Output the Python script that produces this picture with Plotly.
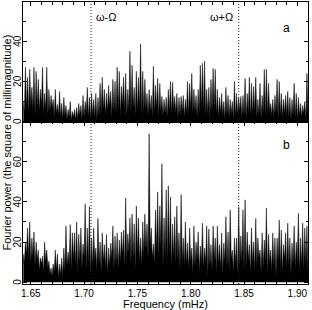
import numpy as np
import plotly.graph_objects as go

# frequency grid (mHz): spike maxima at F0 + k*STEP, minima halfway between
F0 = 1.643
STEP = 0.002

peak_a = [10, 27, 22, 26, 17, 27, 25, 21, 16, 27,
          14, 27, 16, 13, 11, 16, 8.5, 15, 9, 12,
          8, 6, 10, 5, 6, 7, 9, 8, 13, 10,
          17, 12, 14, 11, 14, 12, 19, 22, 16, 14,
          18, 15, 21, 20, 27, 25, 17.5, 22, 24, 16,
          35, 28, 17, 25, 22, 38.7, 25, 21, 14, 16,
          13, 27.5, 18, 21.5, 19, 12.5, 11, 12, 16, 20,
          19.5, 12.5, 14, 12, 12.5, 13, 11, 20, 19, 24,
          16, 13, 16, 28, 29, 30, 16, 17, 21, 26.5,
          26, 16, 12, 14, 10, 17, 13, 11, 10, 20,
          14, 12, 12.5, 13, 21.5, 14, 22, 19, 17.5, 22,
          11, 19, 13, 26, 26, 19, 9, 11, 13, 21,
          20, 14, 11, 13, 15, 12, 11, 19, 14, 12,
          9, 8, 10, 24]
trough_a = [5, 7, 4, 8, 6, 3, 7, 5, 8, 4,
            6, 3, 5, 7, 2, 4, 3, 2, 1, 3,
            1, 2, 0.5, 2, 1, 1.5, 3, 1, 2, 4,
            2, 1, 3, 2, 1, 3, 4, 6, 3, 5,
            7, 2, 5, 4, 6, 3, 8, 5, 2, 6,
            4, 7, 3, 5, 6, 2, 4, 6, 3, 5,
            2, 4, 6, 2, 5, 3, 4, 2, 5, 3,
            6, 4, 2, 3, 5, 2, 4, 3, 6, 4,
            5, 2, 4, 6, 5, 3, 4, 2, 5, 6,
            3, 2, 4, 3, 1, 3, 2, 4, 1, 2,
            3, 5, 2, 3, 1, 4, 2, 3, 5, 2,
            3, 1, 4, 2, 3, 5, 3, 2, 4, 1,
            3, 2, 4, 3, 2, 1, 3, 2, 1, 3,
            2, 4, 1, 3]

peak_b = [14, 20, 27, 30, 22, 25, 20, 16, 12, 13,
          20, 16, 10.5, 7, 9, 16, 14, 9, 12, 17,
          28, 15, 28.7, 24.6, 24.6, 30, 23.8, 27, 19, 39,
          27, 37.6, 22, 27, 17, 31.8, 20, 24.6, 18.7, 23.8,
          17, 19.5, 28, 23, 24.6, 21, 25, 26, 42, 24,
          32, 34, 29, 38, 32, 22, 30, 34, 29, 74,
          27, 19, 36, 45, 38, 59, 32, 46, 48, 42.5,
          29, 32.6, 38, 24.6, 43.6, 22, 30, 19.5, 27, 17,
          28, 20, 25, 18, 29.4, 17, 28, 26.5, 18.7, 28,
          22, 28, 18.7, 24.6, 19.5, 32.6, 25, 36, 16, 22,
          22, 37.6, 23, 36, 41, 25, 18.7, 27, 20, 31.8,
          22, 16, 24.6, 21, 37, 23.8, 16, 24.6, 22, 22,
          31, 26, 18.7, 24.6, 29.4, 22, 19.5, 28, 20, 34.3,
          22, 29.4, 27, 28]
trough_b = [10, 14, 12, 9, 13, 8, 11, 6, 9, 5,
            10, 7, 4, 3, 5, 6, 2, 4, 3, 6,
            8, 9, 6, 11, 8, 5, 10, 7, 12, 6,
            9, 4, 8, 11, 6, 9, 5, 10, 7, 4,
            8, 12, 6, 9, 7, 10, 13, 7, 11, 15,
            9, 12, 6, 14, 10, 8, 13, 16, 11, 18,
            12, 9, 15, 11, 17, 8, 13, 10, 14, 7,
            12, 9, 11, 6, 10, 8, 9, 6, 10, 4,
            8, 11, 5, 9, 7, 10, 3, 8, 6, 11,
            5, 9, 7, 4, 10, 8, 6, 12, 5, 9,
            3, 8, 10, 6, 7, 11, 4, 9, 6, 8,
            12, 5, 7, 10, 4, 9, 6, 8, 3, 10,
            7, 5, 11, 6, 8, 4, 9, 7, 10, 5,
            8, 6, 9, 5]

x_ticks = [1.65, 1.70, 1.75, 1.80, 1.85, 1.90]
x_ticktext = ["1.65", "1.70", "1.75", "1.80", "1.85", "1.90"]
y_ticks_a = [0, 20, 40]
y_ticks_b = [0, 20, 40, 60]
f_minus = 1.7065   # omega - Omega
f_plus = 1.845     # omega + Omega


def spectrum(peaks, troughs):
    xs, ys = [], []
    for k, (p, t) in enumerate(zip(peaks, troughs)):
        f = F0 + k * STEP
        xs += [f, f + STEP / 2]
        ys += [p, t]
    return xs, ys


FONT = "Liberation Sans, Arial, sans-serif"
fig = go.Figure()
xa, ya = spectrum(peak_a, trough_a)
xb, yb = spectrum(peak_b, trough_b)
fig.add_trace(go.Scatter(x=xb, y=yb, mode="lines", fill="tozeroy",
                         fillcolor="black", line=dict(color="black", width=0.5),
                         xaxis="x", yaxis="y", showlegend=False))
fig.add_trace(go.Scatter(x=xa, y=ya, mode="lines", fill="tozeroy",
                         fillcolor="black", line=dict(color="black", width=0.5),
                         xaxis="x2", yaxis="y2", showlegend=False))

XR = [1.6427, 1.910]
common_x = dict(range=XR, showline=True, linecolor="black", linewidth=1,
                mirror="allticks", ticks="inside", ticklen=4, tickcolor="black",
                tickvals=x_ticks, ticktext=x_ticktext, showgrid=False, zeroline=False,
                minor=dict(dtick=0.01, tick0=1.65, ticks="inside", ticklen=2.5,
                           tickcolor="black", showgrid=False))
common_y = dict(showline=True, linecolor="black", linewidth=1, mirror="allticks",
                ticks="inside", ticklen=4, tickcolor="black", showgrid=False,
                zeroline=False, showticklabels=False,
                minor=dict(dtick=10, ticks="inside", ticklen=2.5,
                           tickcolor="black", showgrid=False))

fig.update_layout(
    width=312, height=310,
    margin=dict(l=23, r=4, t=1, b=24),
    paper_bgcolor="white", plot_bgcolor="white",
    font=dict(family=FONT, size=10, color="black"),
    xaxis=dict(**common_x, anchor="y", domain=[0, 1],
               title=dict(text="Frequency (mHz)", font=dict(size=11), standoff=2)),
    xaxis2=dict(**common_x, anchor="y2", domain=[0, 1], matches="x",
                showticklabels=False),
    yaxis=dict(**common_y, domain=[0, 0.576], range=[-0.9, 80], tickvals=y_ticks_b),
    yaxis2=dict(**common_y, domain=[0.576, 1], range=[0, 59.5], tickvals=y_ticks_a),
)

# rotated y tick labels, placed next to the left axis
for yref, vals in (("y2", y_ticks_a), ("y", y_ticks_b)):
    for v in vals:
        fig.add_annotation(text=str(v), x=0, xref="paper", xshift=-5.5,
                           y=v, yref=yref, textangle=-90, xanchor="center",
                           yanchor="middle", showarrow=False, font=dict(size=10))

for f in (f_minus, f_plus):
    fig.add_shape(type="line", xref="x", yref="paper", x0=f, x1=f, y0=0, y1=1,
                  line=dict(color="#222", width=1, dash="1px,2px"), layer="above")

fig.add_annotation(text="ω-Ω", x=f_minus, xref="x", xshift=3, xanchor="left",
                   y=52, yref="y2", showarrow=False, font=dict(size=11))
fig.add_annotation(text="ω+Ω", x=f_plus, xref="x", xshift=-4, xanchor="right",
                   y=52, yref="y2", showarrow=False, font=dict(size=11))
fig.add_annotation(text="a", x=1.8895, xref="x", y=46.5, yref="y2",
                   showarrow=False, font=dict(size=12))
fig.add_annotation(text="b", x=1.8895, xref="x", y=68.5, yref="y",
                   showarrow=False, font=dict(size=12))
fig.add_annotation(text="Fourier power (the square of millimagnitude)",
                   textangle=-90, xref="paper", yref="paper", x=0, xshift=-16.5, y=0.5,
                   xanchor="center", yanchor="middle", showarrow=False,
                   font=dict(size=11))

fig.write_html("out.html")
